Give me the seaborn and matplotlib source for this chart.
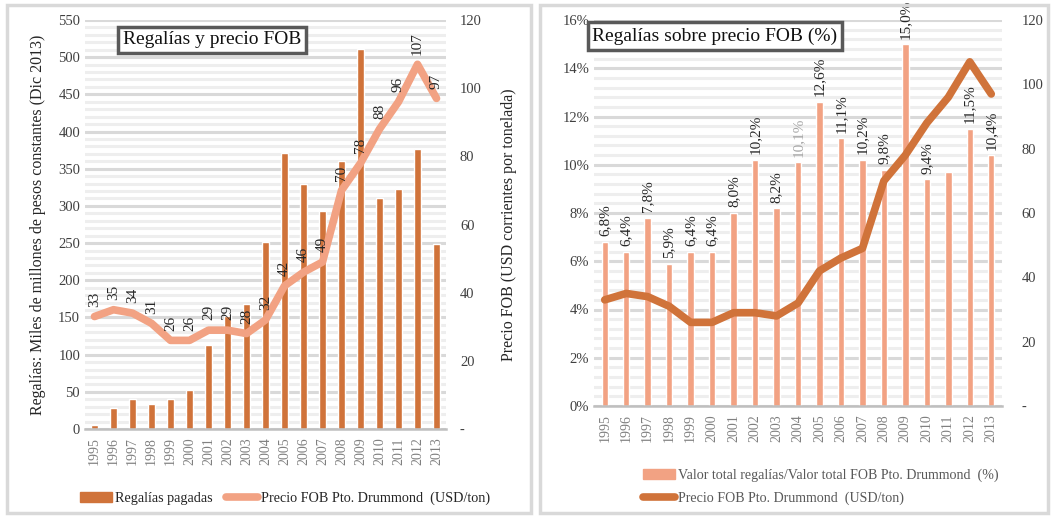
import matplotlib
matplotlib.use("Agg")
import matplotlib.pyplot as plt
import seaborn as sns
import numpy as np
from matplotlib.patches import Rectangle, Patch
from matplotlib.lines import Line2D
from matplotlib.ticker import MultipleLocator, FuncFormatter

years = [str(y) for y in range(1995, 2014)]
regalias = [5, 28, 40, 34, 40, 53, 113, 152, 168, 252, 371, 329, 293, 360, 511, 310, 323, 377, 249]
precio_fob = [33, 35, 34, 31, 26, 26, 29, 29, 28, 32, 42, 46, 49, 70, 78, 88, 96, 107, 97]
pct_regalias = [6.8, 6.4, 7.8, 5.9, 6.4, 6.4, 8.0, 10.2, 8.2, 10.1, 12.6, 11.1, 10.2, 9.8, 15.0, 9.4, 9.7, 11.5, 10.4]
unlabeled_years = ["2011"]
muted_label_years = ["2004"]

title_left = "Regalías y precio FOB"
title_right = "Regalías sobre precio FOB (%)"
ylabel_left = "Regalías: Miles de millones de pesos constantes (Dic 2013)"
ylabel_right = "Precio FOB (USD corrientes por tonelada)"
leg_bar_left = "Regalías pagadas"
leg_line = "Precio FOB Pto. Drummond  (USD/ton)"
leg_bar_right = "Valor total regalías/Valor total FOB Pto. Drummond  (%)"

sns.set_theme(style="white")
plt.rcParams["font.family"] = ["Liberation Serif", "DejaVu Serif"]

DARK = "#D0733A"
SALMON = "#F2A283"
GRID_MAJ = "#D9D9D9"
GRID_MIN = "#EEEEEE"
TXT = "#404040"
TICKX = "#808080"

W, H = 1052, 519
fig = plt.figure(figsize=(W / 100, H / 100), dpi=100)
fig.patch.set_facecolor("white")


def fx(px):
    return px / W


def fy(py):
    return 1 - py / H


def dash_zero(v, pos):
    return "-" if abs(v) < 1e-9 else f"{v:.0f}"


def style_axes(ax, n):
    for s in ["left", "right", "top"]:
        ax.spines[s].set_visible(False)
    ax.spines["bottom"].set_color("#BFBFBF")
    ax.spines["bottom"].set_linewidth(1.8)
    ax.set_xlim(-0.5, n - 0.5)
    ax.set_xticks(np.arange(-0.5, n, 1), minor=True)
    ax.tick_params(axis="x", which="minor", length=5, width=1.5, color="#BFBFBF")
    ax.tick_params(axis="x", which="major", length=0, labelsize=10, labelcolor=TICKX, rotation=90, pad=6)
    ax.tick_params(axis="y", which="both", length=0, labelsize=10.5, labelcolor=TXT)
    ax.grid(False)
    ax.grid(which="major", axis="y", color=GRID_MAJ, lw=2.2)
    ax.grid(which="minor", axis="y", color=GRID_MIN, lw=2.2)
    ax.set_axisbelow(True)
    ax.set_xlabel("")


n = len(years)

# ---------------- Left panel ----------------
ax1 = fig.add_axes([fx(85), fy(429), fx(446 - 85), (429 - 20) / H])
sns.barplot(x=years, y=regalias, color=DARK, width=0.42, saturation=1, ax=ax1)
ax1.set_ylim(0, 550)
ax1.yaxis.set_major_locator(MultipleLocator(50))
ax1.yaxis.set_minor_locator(MultipleLocator(10))
style_axes(ax1, n)
ax1.set_ylabel(ylabel_left, fontsize=11.5, color="#262626", labelpad=9)

ax1b = ax1.twinx()
sns.lineplot(x=np.arange(n), y=precio_fob, ax=ax1b, color=SALMON, lw=5.5, zorder=3)
ax1b.set_ylim(0, 120)
ax1b.yaxis.set_major_locator(MultipleLocator(20))
ax1b.yaxis.set_major_formatter(FuncFormatter(dash_zero))
for s in ax1b.spines.values():
    s.set_visible(False)
ax1b.grid(False)
ax1b.tick_params(axis="y", length=0, labelsize=10.5, labelcolor=TXT, pad=10)
ax1b.set_ylabel(ylabel_right, fontsize=11.5, color="#262626", labelpad=14)
for i, v in enumerate(precio_fob):
    ax1b.annotate(str(v), (i, v), xytext=(0, 7), textcoords="offset points",
                  rotation=90, ha="center", va="bottom", fontsize=11, color="#262626",
                  zorder=5)

# ---------------- Right panel ----------------
ax2 = fig.add_axes([fx(594), fy(406), fx(1002 - 594), (406 - 20) / H])
sns.barplot(x=years, y=pct_regalias, color=SALMON, width=0.3, saturation=1, ax=ax2)
ax2.set_ylim(0, 16)
ax2.yaxis.set_major_locator(MultipleLocator(2))
ax2.yaxis.set_minor_locator(MultipleLocator(0.4))
ax2.yaxis.set_major_formatter(FuncFormatter(lambda v, p: f"{v:.0f}%"))
style_axes(ax2, n)
ax2.set_ylabel("")
for i, (yr, v) in enumerate(zip(years, pct_regalias)):
    if yr in unlabeled_years:
        continue
    col = "#A6A6A6" if yr in muted_label_years else "#262626"
    ax2.annotate(f"{v:.1f}%".replace(".", ","), (i, v), xytext=(0, 4), textcoords="offset points",
                 rotation=90, ha="center", va="bottom", fontsize=11, color=col,
                 annotation_clip=False)

ax2b = ax2.twinx()
sns.lineplot(x=np.arange(n), y=precio_fob, ax=ax2b, color=DARK, lw=5.5, zorder=3)
ax2b.set_ylim(0, 120)
ax2b.yaxis.set_major_locator(MultipleLocator(20))
ax2b.yaxis.set_major_formatter(FuncFormatter(dash_zero))
for s in ax2b.spines.values():
    s.set_visible(False)
ax2b.grid(False)
ax2b.tick_params(axis="y", length=0, labelsize=10.5, labelcolor=TXT, pad=14)
ax2b.set_ylabel("")

# ---------------- Titles ----------------
box = dict(boxstyle="square,pad=0.25", fc="white", ec="#595959", lw=2.5)
fig.text(fx(212), fy(40), title_left, ha="center", va="center", fontsize=14, color="#111111", bbox=box)
fig.text(fx(715), fy(36), title_right, ha="center", va="center", fontsize=14, color="#111111", bbox=box)

# ---------------- Legends ----------------
h_left = [Patch(color=DARK), Line2D([], [], color=SALMON, lw=5.5)]
leg1 = fig.legend(h_left, [leg_bar_left, leg_line], loc="center", bbox_to_anchor=(fx(285), fy(498)),
                  ncol=2, frameon=False, fontsize=10.2, handlelength=2.3, columnspacing=0.9,
                  handletextpad=0.2, labelcolor="#262626")

h_right = [Patch(color=SALMON), Line2D([], [], color=DARK, lw=5.5)]
leg2 = fig.legend(h_right, [leg_bar_right, leg_line], loc="center left", bbox_to_anchor=(fx(630), fy(487)),
                  ncol=1, frameon=False, fontsize=10.1, handlelength=2.3, labelspacing=0.7,
                  handletextpad=0.2, labelcolor="#595959")

# ---------------- Panel borders ----------------
for x0, x1 in [(7, 531), (540, 1048)]:
    fig.add_artist(Rectangle((fx(x0), fy(513)), fx(x1 - x0), (513 - 5) / H,
                             transform=fig.transFigure, fill=False, ec="#D9D9D9", lw=2.5))

fig.savefig("out.png", dpi=100, facecolor="white")
